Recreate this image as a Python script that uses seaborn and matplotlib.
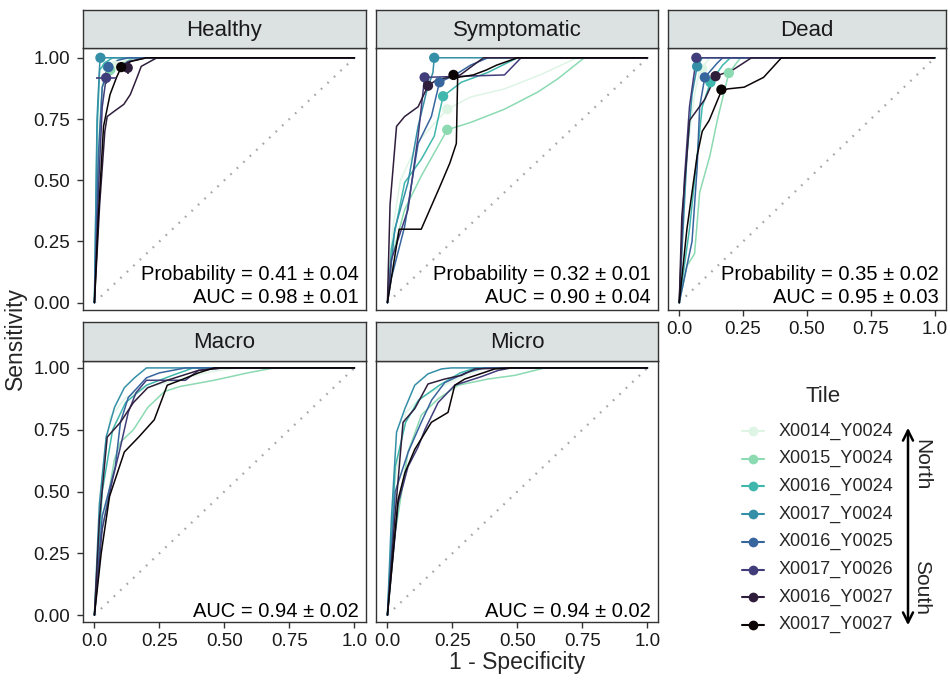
import numpy as np
import pandas as pd
import matplotlib
matplotlib.use("Agg")
import matplotlib.pyplot as plt
import seaborn as sns
from matplotlib.lines import Line2D
from matplotlib.patches import FancyArrowPatch

# ---------------- data ----------------
TILES = ["X0014_Y0024", "X0015_Y0024", "X0016_Y0024", "X0017_Y0024",
         "X0016_Y0025", "X0017_Y0026", "X0016_Y0027", "X0017_Y0027"]
PANELS = ["Healthy", "Symptomatic", "Dead", "Macro", "Micro"]

HEALTHY_FPR = {
    "X0014_Y0024": [0, 0.01, 0.03, 0.06, 0.08, 0.12, 0.17, 1],
    "X0015_Y0024": [0, 0.015, 0.03, 0.06, 0.10, 0.15, 1],
    "X0016_Y0024": [0, 0.01, 0.02, 0.04, 0.07, 1],
    "X0017_Y0024": [0, 0.01, 0.02, 0.023, 0.05, 1],
    "X0016_Y0025": [0, 0.015, 0.03, 0.054, 0.09, 0.13, 1],
    "X0017_Y0026": [0, 0.015, 0.03, 0.045, 0.08, 0.13, 0.20, 1],
    "X0016_Y0027": [0, 0.02, 0.04, 0.049, 0.074, 0.113, 0.138, 0.164, 0.18, 0.24, 1],
    "X0017_Y0027": [0, 0.015, 0.035, 0.06, 0.085, 0.103, 0.14, 0.20, 1],
}
HEALTHY_TPR = {
    "X0014_Y0024": [0, 0.6, 0.9, 0.95, 0.967, 0.99, 1, 1],
    "X0015_Y0024": [0, 0.55, 0.88, 0.94, 0.97, 1, 1],
    "X0016_Y0024": [0, 0.7, 0.95, 0.98, 1, 1],
    "X0017_Y0024": [0, 0.75, 0.97, 1.0, 1, 1],
    "X0016_Y0025": [0, 0.6, 0.88, 0.962, 0.99, 1, 1],
    "X0017_Y0026": [0, 0.45, 0.8, 0.918, 0.95, 0.985, 1, 1],
    "X0016_Y0027": [0, 0.4, 0.7, 0.76, 0.78, 0.81, 0.85, 0.92, 0.965, 1, 1],
    "X0017_Y0027": [0, 0.35, 0.72, 0.85, 0.92, 0.962, 0.985, 1, 1],
}

SYMPTOMATIC_FPR = {
    "X0014_Y0024": [0, 0.02, 0.05, 0.12, 0.23, 0.32, 0.45, 0.58, 0.73, 1],
    "X0015_Y0024": [0, 0.015, 0.066, 0.13, 0.23, 0.32, 0.45, 0.578, 0.655, 0.757, 1],
    "X0016_Y0024": [0, 0.015, 0.066, 0.13, 0.18, 0.214, 0.284, 0.386, 0.5, 1],
    "X0017_Y0024": [0, 0.028, 0.079, 0.118, 0.15, 0.175, 0.18, 1],
    "X0016_Y0025": [0, 0.015, 0.066, 0.118, 0.169, 0.2, 0.26, 0.32, 0.386, 1],
    "X0017_Y0026": [0, 0.015, 0.079, 0.118, 0.143, 0.3, 0.45, 0.514, 1],
    "X0016_Y0027": [0, 0.01, 0.035, 0.066, 0.118, 0.156, 0.19, 0.28, 0.35, 0.37, 1],
    "X0017_Y0027": [0, 0.045, 0.13, 0.2, 0.24, 0.265, 0.27, 0.33, 0.38, 0.42, 0.5, 1],
}
SYMPTOMATIC_TPR = {
    "X0014_Y0024": [0, 0.3, 0.5, 0.66, 0.79, 0.84, 0.873, 0.927, 1, 1],
    "X0015_Y0024": [0, 0.175, 0.38, 0.517, 0.706, 0.736, 0.79, 0.86, 0.914, 1, 1],
    "X0016_Y0024": [0, 0.22, 0.49, 0.585, 0.68, 0.843, 0.9, 0.94, 1, 1],
    "X0017_Y0024": [0, 0.3, 0.49, 0.72, 0.86, 0.94, 1, 1],
    "X0016_Y0025": [0, 0.1, 0.31, 0.65, 0.76, 0.9, 0.93, 0.97, 1, 1],
    "X0017_Y0026": [0, 0.175, 0.38, 0.68, 0.92, 0.925, 0.93, 1, 1],
    "X0016_Y0027": [0, 0.4, 0.72, 0.76, 0.80, 0.886, 0.91, 0.93, 0.985, 1, 1],
    "X0017_Y0027": [0, 0.30, 0.30, 0.47, 0.57, 0.65, 0.92, 0.93, 0.95, 0.97, 1, 1],
}

DEAD_FPR = {
    "X0014_Y0024": [0, 0.03, 0.06, 0.08, 0.12, 1],
    "X0015_Y0024": [0, 0.03, 0.06, 0.08, 0.12, 0.15, 0.194, 0.24, 1],
    "X0016_Y0024": [0, 0.04, 0.07, 0.09, 0.122, 0.17, 0.2, 1],
    "X0017_Y0024": [0, 0.03, 0.05, 0.07, 0.09, 1],
    "X0016_Y0025": [0, 0.05, 0.07, 0.08, 0.1, 0.15, 0.17, 1],
    "X0017_Y0026": [0, 0.02, 0.04, 0.067, 1],
    "X0016_Y0027": [0, 0.01, 0.03, 0.04, 0.1, 0.142, 0.206, 0.283, 1],
    "X0017_Y0027": [0, 0.03, 0.07, 0.09, 0.117, 0.165, 0.19, 0.254, 0.33, 0.4, 1],
}
DEAD_TPR = {
    "X0014_Y0024": [0, 0.6, 0.85, 0.95, 1, 1],
    "X0015_Y0024": [0, 0.15, 0.2, 0.45, 0.6, 0.75, 0.938, 1, 1],
    "X0016_Y0024": [0, 0.3, 0.6, 0.8, 0.90, 0.97, 1, 1],
    "X0017_Y0024": [0, 0.6, 0.85, 0.965, 1, 1],
    "X0016_Y0025": [0, 0.25, 0.55, 0.8, 0.92, 0.98, 1, 1],
    "X0017_Y0026": [0, 0.5, 0.8, 1, 1],
    "X0016_Y0027": [0, 0.35, 0.6, 0.744, 0.83, 0.925, 0.948, 1, 1],
    "X0017_Y0027": [0, 0.3, 0.6, 0.7, 0.744, 0.865, 0.873, 0.88, 0.92, 1, 1],
}

MACRO_FPR = {
    "X0014_Y0024": [0, 0.03, 0.06, 0.12, 0.2, 0.35, 0.45, 0.55, 1],
    "X0015_Y0024": [0, 0.026, 0.077, 0.10, 0.15, 0.205, 0.27, 0.33, 0.46, 0.59, 0.69, 1],
    "X0016_Y0024": [0, 0.03, 0.07, 0.12, 0.2, 0.3, 0.38, 1],
    "X0017_Y0024": [0, 0.019, 0.045, 0.077, 0.115, 0.154, 0.2, 1],
    "X0016_Y0025": [0, 0.03, 0.08, 0.1, 0.13, 0.2, 0.25, 0.35, 1],
    "X0017_Y0026": [0, 0.03, 0.07, 0.1, 0.13, 0.16, 0.2, 0.35, 0.4, 0.5, 1],
    "X0016_Y0027": [0, 0.019, 0.049, 0.10, 0.15, 0.205, 0.28, 0.40, 0.49, 1],
    "X0017_Y0027": [0, 0.026, 0.058, 0.115, 0.17, 0.23, 0.28, 0.33, 0.40, 0.46, 1],
}
MACRO_TPR = {
    "X0014_Y0024": [0, 0.55, 0.8, 0.88, 0.92, 0.96, 0.985, 1, 1],
    "X0015_Y0024": [0, 0.32, 0.63, 0.70, 0.75, 0.84, 0.905, 0.925, 0.95, 0.98, 1, 1],
    "X0016_Y0024": [0, 0.5, 0.75, 0.86, 0.93, 0.97, 1, 1],
    "X0017_Y0024": [0, 0.45, 0.72, 0.84, 0.92, 0.96, 1, 1],
    "X0016_Y0025": [0, 0.4, 0.6, 0.78, 0.88, 0.96, 0.98, 1, 1],
    "X0017_Y0026": [0, 0.35, 0.55, 0.68, 0.82, 0.9, 0.95, 0.95, 0.99, 1, 1],
    "X0016_Y0027": [0, 0.385, 0.72, 0.78, 0.86, 0.92, 0.95, 0.99, 1, 1],
    "X0017_Y0027": [0, 0.25, 0.48, 0.66, 0.72, 0.79, 0.93, 0.95, 0.98, 1, 1],
}

MICRO_FPR = {
    "X0014_Y0024": [0, 0.03, 0.07, 0.13, 0.2, 0.3, 0.38, 1],
    "X0015_Y0024": [0, 0.028, 0.079, 0.131, 0.195, 0.272, 0.387, 0.49, 0.605, 1],
    "X0016_Y0024": [0, 0.03, 0.07, 0.12, 0.2, 0.28, 0.34, 1],
    "X0017_Y0024": [0, 0.015, 0.035, 0.067, 0.105, 0.156, 0.208, 0.246, 1],
    "X0016_Y0025": [0, 0.03, 0.08, 0.13, 0.17, 0.22, 0.3, 0.37, 1],
    "X0017_Y0026": [0, 0.041, 0.079, 0.118, 0.144, 0.195, 0.259, 0.362, 0.426, 0.477, 1],
    "X0016_Y0027": [0, 0.028, 0.06, 0.105, 0.156, 0.22, 0.285, 0.336, 0.477, 1],
    "X0017_Y0027": [0, 0.041, 0.067, 0.105, 0.169, 0.233, 0.259, 0.297, 0.413, 0.477, 1],
}
MICRO_TPR = {
    "X0014_Y0024": [0, 0.55, 0.82, 0.88, 0.92, 0.97, 1, 1],
    "X0015_Y0024": [0, 0.32, 0.66, 0.81, 0.875, 0.93, 0.955, 0.97, 1, 1],
    "X0016_Y0024": [0, 0.6, 0.78, 0.87, 0.93, 0.98, 1, 1],
    "X0017_Y0024": [0, 0.386, 0.74, 0.835, 0.93, 0.976, 0.996, 1, 1],
    "X0016_Y0025": [0, 0.5, 0.66, 0.78, 0.87, 0.94, 0.98, 1, 1],
    "X0017_Y0026": [0, 0.45, 0.60, 0.68, 0.75, 0.86, 0.93, 0.965, 0.99, 1, 1],
    "X0016_Y0027": [0, 0.386, 0.78, 0.835, 0.935, 0.955, 0.97, 0.996, 1, 1],
    "X0017_Y0027": [0, 0.467, 0.575, 0.67, 0.78, 0.82, 0.93, 0.955, 0.996, 1, 1],
}

# optimal-threshold points (order = TILES)
HEALTHY_PT_FPR = [0.08, 0.06, 0.05, 0.023, 0.054, 0.045, 0.128, 0.103]
HEALTHY_PT_TPR = [0.967, 0.95, 0.965, 1.0, 0.962, 0.918, 0.959, 0.962]
HEALTHY_PT_XERR = [0, 0, 0, 0, 0, 0.038, 0.01, 0]
HEALTHY_PT_YERR = [0, 0, 0, 0, 0, 0.026, 0.024, 0]
SYMPTOMATIC_PT_FPR = [0.23, 0.23, 0.214, 0.18, 0.20, 0.143, 0.156, 0.254]
SYMPTOMATIC_PT_TPR = [0.79, 0.706, 0.843, 1.0, 0.90, 0.92, 0.886, 0.93]
DEAD_PT_FPR = [0.09, 0.194, 0.122, 0.07, 0.10, 0.067, 0.142, 0.165]
DEAD_PT_TPR = [0.955, 0.938, 0.90, 0.965, 0.92, 1.0, 0.925, 0.87]

PROB_MEAN = [0.41, 0.32, 0.35]
PROB_SD = [0.04, 0.01, 0.02]
AUC_MEAN = [0.98, 0.90, 0.95, 0.94, 0.94]
AUC_SD = [0.01, 0.04, 0.03, 0.02, 0.02]

X_TICKS = [0, 0.25, 0.5, 0.75, 1.0]
X_TICK_LABELS = ["0.0", "0.25", "0.50", "0.75", "1.0"]
Y_TICKS = [0, 0.25, 0.5, 0.75, 1.0]
Y_TICK_LABELS = ["0.00", "0.25", "0.50", "0.75", "1.00"]

# ---------------- build tables ----------------
CURVES = {
    "Healthy": (HEALTHY_FPR, HEALTHY_TPR),
    "Symptomatic": (SYMPTOMATIC_FPR, SYMPTOMATIC_TPR),
    "Dead": (DEAD_FPR, DEAD_TPR),
    "Macro": (MACRO_FPR, MACRO_TPR),
    "Micro": (MICRO_FPR, MICRO_TPR),
}
rows = []
for panel, (fd, td) in CURVES.items():
    for tile in TILES:
        for i, (f, t) in enumerate(zip(fd[tile], td[tile])):
            rows.append((panel, tile, i, f, t))
roc = pd.DataFrame(rows, columns=["panel", "tile", "step", "fpr", "tpr"])

POINTS = {
    "Healthy": (HEALTHY_PT_FPR, HEALTHY_PT_TPR, HEALTHY_PT_XERR, HEALTHY_PT_YERR),
    "Symptomatic": (SYMPTOMATIC_PT_FPR, SYMPTOMATIC_PT_TPR, [0] * 8, [0] * 8),
    "Dead": (DEAD_PT_FPR, DEAD_PT_TPR, [0] * 8, [0] * 8),
}
prow = []
for panel, (fx, ty, xe, ye) in POINTS.items():
    for tile, a, b, c, d in zip(TILES, fx, ty, xe, ye):
        prow.append((panel, tile, a, b, c, d))
pts = pd.DataFrame(prow, columns=["panel", "tile", "fpr", "tpr", "xerr", "yerr"])

# ---------------- style ----------------
sns.set_theme(style="white")
plt.rcParams["font.family"] = ["Liberation Sans", "DejaVu Sans"]

cmap = sns.color_palette("mako", as_cmap=True)
PAL = dict(zip(TILES, [cmap(v) for v in np.linspace(1, 0, len(TILES))]))

W, H = 950, 682
fig = plt.figure(figsize=(W / 100, H / 100), dpi=100)


def fpos(left, top, right, bottom):
    return [left / W, 1 - bottom / H, (right - left) / W, (bottom - top) / H]


COLS = [(83, 366), (376, 658), (668, 946)]
COL_SCALE = [260.0, 260.0, 255.5]
ROW_PLOT = [(48, 310), (361, 622)]
ROW_STRIP = [(10, 48), (322, 361)]
YLIMS = [(-0.03, 1.04), (-0.028, 1.028)]
LAYOUT = {"Healthy": (0, 0), "Symptomatic": (0, 1), "Dead": (0, 2),
          "Macro": (1, 0), "Micro": (1, 1)}
BORDER = "#333333"
STRIP_FILL = "#DCE1E1"

for pi, panel in enumerate(PANELS):
    r, c = LAYOUT[panel]
    l, rgt = COLS[c]
    t, b = ROW_PLOT[r]
    ax = fig.add_axes(fpos(l, t, rgt, b))
    x0 = -0.044
    xr = x0 + (rgt - l) / COL_SCALE[c]
    ax.set_xlim(x0, xr)
    ax.set_ylim(*YLIMS[r])

    ax.plot([0, 1], [0, 1], color="#a8a8a8", lw=1.6, ls=(0, (0.8, 3.2)),
            zorder=1)

    sub = roc[roc["panel"] == panel]
    sns.lineplot(data=sub, x="fpr", y="tpr", hue="tile", hue_order=TILES,
                 palette=PAL, sort=False, estimator=None, legend=False,
                 lw=1.1, ax=ax, zorder=2)

    psub = pts[pts["panel"] == panel]
    if len(psub):
        for _, row in psub.iterrows():
            if row["xerr"] > 0 or row["yerr"] > 0:
                ax.errorbar(row["fpr"], row["tpr"], xerr=row["xerr"], yerr=row["yerr"],
                            fmt="none", ecolor=PAL[row["tile"]], elinewidth=1.2,
                            capsize=0, zorder=3)
        sns.scatterplot(data=psub, x="fpr", y="tpr", hue="tile", hue_order=TILES,
                        palette=PAL, s=55, edgecolor="none", legend=False,
                        ax=ax, zorder=4)

    # annotations
    if pi < 3:
        ax.text(0.975, 0.137, f"Probability = {PROB_MEAN[pi]:.2f} \u00b1 {PROB_SD[pi]:.2f}",
                transform=ax.transAxes, ha="right", va="center", fontsize=14.5,
                color="black")
        ax.text(0.975, 0.046, f"AUC = {AUC_MEAN[pi]:.2f} \u00b1 {AUC_SD[pi]:.2f}",
                transform=ax.transAxes, ha="right", va="center", fontsize=14.5,
                color="black")
    else:
        ax.text(0.975, 0.042, f"AUC = {AUC_MEAN[pi]:.2f} \u00b1 {AUC_SD[pi]:.2f}",
                transform=ax.transAxes, ha="right", va="center", fontsize=14.5,
                color="black")

    ax.set_xlabel("")
    ax.set_ylabel("")
    for s in ax.spines.values():
        s.set_color(BORDER)
        s.set_linewidth(1.0)
    ax.set_facecolor("white")

    show_x = (r == 1) or (panel == "Dead")
    show_y = (c == 0)
    ax.set_xticks(X_TICKS)
    ax.set_yticks(Y_TICKS)
    if show_x:
        ax.set_xticklabels(X_TICK_LABELS)
    else:
        ax.set_xticklabels([])
    if show_y:
        ax.set_yticklabels(Y_TICK_LABELS)
    else:
        ax.set_yticklabels([])
    ax.tick_params(axis="x", bottom=show_x, length=4, width=1.0, color=BORDER,
                   labelsize=13.5, labelcolor="#1a1a1a", pad=4)
    ax.tick_params(axis="y", left=show_y, length=4, width=1.0, color=BORDER,
                   labelsize=13.5, labelcolor="#1a1a1a", pad=5)

    # strip
    st, sb = ROW_STRIP[r]
    sax = fig.add_axes(fpos(l, st, rgt, sb))
    sax.set_facecolor(STRIP_FILL)
    sax.set_xticks([])
    sax.set_yticks([])
    for s in sax.spines.values():
        s.set_color(BORDER)
        s.set_linewidth(1.0)
    sax.text(0.5, 0.47, panel, transform=sax.transAxes, ha="center", va="center",
             fontsize=16, color="#1a1a1a")

# axis titles
fig.text(15 / W, 1 - 338 / H, "Sensitivity", rotation=90, ha="center", va="center",
         fontsize=16.5)
fig.text(517 / W, 1 - 662 / H, "1 - Specificity", ha="center", va="center",
         fontsize=16.5)

# legend (manual)
fig.text(823 / W, 1 - 396 / H, "Tile", ha="center", va="center", fontsize=16)
for i, tile in enumerate(TILES):
    yp = 1 - (431 + i * 27.7) / H
    fig.add_artist(Line2D([742 / W, 764 / W], [yp, yp], transform=fig.transFigure,
                          color=PAL[tile], lw=1.5))
    fig.add_artist(Line2D([753 / W], [yp], transform=fig.transFigure, marker="o",
                          markersize=7, color=PAL[tile], markeredgecolor="none"))
    fig.text(779 / W, yp, tile, ha="left", va="center", fontsize=13)

arrow = FancyArrowPatch((908 / W, 1 - 628 / H), (908 / W, 1 - 425 / H),
                        transform=fig.transFigure, arrowstyle="<->",
                        mutation_scale=18, lw=1.8, color="black")
fig.add_artist(arrow)
fig.text(922 / W, 1 - 465 / H, "North", rotation=270, ha="center", va="center",
         fontsize=15)
fig.text(922 / W, 1 - 587 / H, "South", rotation=270, ha="center", va="center",
         fontsize=15)

fig.savefig("out.png", dpi=100)
